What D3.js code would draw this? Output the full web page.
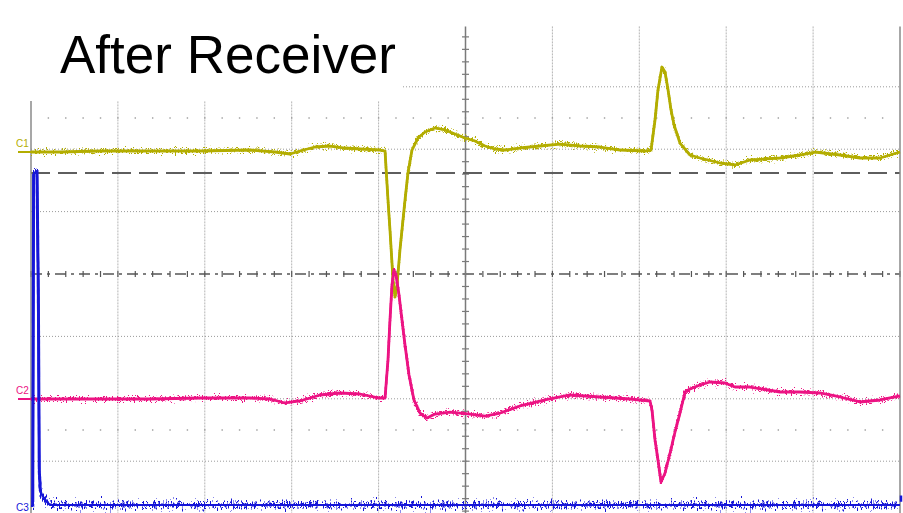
<!DOCTYPE html>
<html>
<head>
<meta charset="utf-8">
<script src="https://cdn.jsdelivr.net/npm/d3@7"></script>
<style>
  html, body { margin: 0; padding: 0; background: #fff; }
  svg { display: block; }
</style>
</head>
<body>
<svg id="scope" width="903" height="513"></svg>
<script>
// Screen units: time 0..100 (10 per division), level -40..40 (10 per division)
const title = "After Receiver";
const channelNames = ["C1", "C2", "C3"];
const channelColors = ["#b3ad00", "#ec1283", "#1515d8"];

const c1Time = [0,3.34,7.94,13.69,19.45,25.2,28.08,29.8,30.95,32.68,34.41,36.13,37.86,40.16,40.74,41.08,41.31,41.66,41.89,42.12,42.46,42.69,43.04,43.38,43.84,44.53,45.34,46.49,47.64,48.79,49.94,51.09,52.24,53.39,54.55,56.27,58.57,60.87,63.18,65.48,67.78,70.66,71.35,71.81,72.15,72.61,72.96,73.31,73.65,74.0,74.68,75.83,76.98,79.29,81.01,82.74,86.19,88.49,90.22,93.1,95.4,97.7,100];
const c1Level = [19.55,19.55,19.71,19.71,19.71,19.87,19.55,19.23,19.71,20.35,20.51,20.19,20.03,19.87,19.71,11.86,7.05,-0.96,-3.69,-1.76,3.85,7.05,11.86,16.19,19.87,21.79,22.76,23.40,23.08,22.44,21.79,21.31,20.51,20.03,19.87,20.19,20.51,20.83,20.51,20.35,19.87,19.71,19.87,24.68,29.49,33.17,32.37,29.49,26.28,23.88,20.99,19.07,18.59,17.79,17.47,18.27,18.59,19.07,19.55,19.07,18.59,18.59,19.55];

const c2Time = [0,7.94,13.69,19.45,25.2,27.50,29.23,30.95,33.26,35.56,37.86,39.93,40.74,41.08,41.31,41.54,41.77,42.0,42.35,42.69,43.04,43.50,44.07,44.76,45.57,46.49,48.22,50.52,52.24,54.0,56.27,59.15,62.03,65.48,68.93,71.23,71.46,71.81,72.15,72.50,72.96,73.54,74.11,74.68,75.26,75.83,76.98,78.14,79.86,81.01,82.74,86.19,88.49,90.79,93.1,95.4,97.7,100];
const c2Level = [-20.03,-20.03,-20.03,-19.87,-19.87,-20.03,-20.67,-20.35,-19.39,-19.07,-19.23,-19.87,-19.87,-13.78,-7.37,-1.76,0.64,-0.16,-3.37,-7.37,-11.38,-16.19,-20.19,-22.28,-23.08,-22.44,-22.12,-22.44,-22.76,-22.28,-21.15,-20.19,-19.39,-19.71,-20.03,-20.35,-21.79,-26.60,-29.81,-33.33,-31.89,-28.69,-25.32,-22.28,-18.91,-18.43,-17.79,-17.31,-17.47,-18.11,-18.11,-18.91,-18.91,-19.07,-19.71,-20.51,-20.19,-19.55];

const c3Time = [0,0.2,0.3,0.58,0.69,0.85,0.95,1.06,1.27,1.61,2.19,100];
const c3Level = [-37.18,-37.18,15.87,16.51,16.35,-4.17,-31.41,-34.62,-35.42,-36.22,-37.02,-37.02];

const majorX = d3.range(0, 101, 10);     // vertical graticule
const majorY = d3.range(-30, 31, 10);    // horizontal graticule
const minorX = d3.range(0, 100.01, 2);   // 5 minor ticks per division
const minorY = d3.range(-40, 40.01, 2);

const svg = d3.select("#scope");
const x = d3.scaleLinear().domain([0, 100]).range([31, 900]);
const y = d3.scaleLinear().domain([-40, 40]).range([523.6, 24.4]);

// vertical-only jitter so traces read as a noisy acquisition band
const defs = svg.append("defs");
function jitter(id, freq, scale, seed) {
  const f = defs.append("filter").attr("id", id)
    .attr("filterUnits", "userSpaceOnUse").attr("x", 0).attr("y", 0).attr("width", 903).attr("height", 513);
  f.append("feTurbulence").attr("type", "fractalNoise").attr("baseFrequency", freq)
    .attr("numOctaves", 2).attr("seed", seed).attr("result", "n");
  f.append("feColorMatrix").attr("in", "n").attr("type", "matrix")
    .attr("values", "0 0 0 0 0.5  0 1 0 0 0  0 0 0 0 0  0 0 0 0 1").attr("result", "m");
  f.append("feDisplacementMap").attr("in", "SourceGraphic").attr("in2", "m")
    .attr("scale", scale).attr("xChannelSelector", "R").attr("yChannelSelector", "G");
}
jitter("noise", "0.9 0.6", 14, 4);
jitter("noise3", "0.8 0.2", 20, 9);

const grid = svg.append("g");
const yTop = y(40), yBot = y(-40);

// vertical division lines
grid.selectAll("line.vx").data(majorX.filter(d => d !== 50 && d !== 0 && d !== 100)).join("line")
  .attr("x1", d => x(d)).attr("x2", d => x(d)).attr("y1", yTop + 2).attr("y2", yBot)
  .attr("stroke", "#b4b4b4").attr("stroke-width", 1).attr("stroke-dasharray", "2,1");

// horizontal division lines
grid.selectAll("line.hy").data(majorY.filter(d => d !== 0)).join("line")
  .attr("x1", x(0)).attr("x2", x(100)).attr("y1", d => y(d)).attr("y2", d => y(d))
  .attr("stroke", "#9a9a9a").attr("stroke-width", 1).attr("stroke-dasharray", "1,2");

// sparse minor dot rows
[25, -25].forEach(lv => {
  grid.selectAll(null).data(minorX.slice(1, -1)).join("rect")
    .attr("x", d => x(d) - 0.7).attr("y", y(lv) - 0.7).attr("width", 1.4).attr("height", 1.4)
    .attr("fill", "#999");
});

// center horizontal axis (dash-dot) with minor ticks
grid.append("line").attr("x1", x(0)).attr("x2", x(100)).attr("y1", y(0)).attr("y2", y(0))
  .attr("stroke", "#555").attr("stroke-width", 1.6).attr("stroke-dasharray", "11,5,3,5");
grid.selectAll(null).data(minorX).join("line")
  .attr("x1", d => x(d)).attr("x2", d => x(d)).attr("y1", y(0) - 3).attr("y2", y(0) + 3)
  .attr("stroke", "#555").attr("stroke-width", 1.2);

// center vertical axis with minor ticks
grid.append("line").attr("x1", x(50)).attr("x2", x(50)).attr("y1", yTop + 2).attr("y2", yBot)
  .attr("stroke", "#7a7a7a").attr("stroke-width", 1.5);
grid.selectAll(null).data(minorY.filter(d => y(d) > yTop + 4)).join("line")
  .attr("x1", x(50) - 3.5).attr("x2", x(50) + 3.5).attr("y1", d => y(d)).attr("y2", d => y(d))
  .attr("stroke", "#7a7a7a").attr("stroke-width", 1.2);

// trigger level marker (dashed)
grid.append("line").attr("x1", x(0)).attr("x2", x(100)).attr("y1", y(16.2)).attr("y2", y(16.2))
  .attr("stroke", "#5e5e5e").attr("stroke-width", 2).attr("stroke-dasharray", "19,8");

// title panel
svg.append("rect").attr("x", 0).attr("y", 0).attr("width", 402).attr("height", 101).attr("fill", "#fff");
svg.append("text").attr("x", 60).attr("y", 73)
  .attr("font-family", "Liberation Sans, Arial, sans-serif").attr("font-size", 53)
  .attr("fill", "#000").text(title);

// frame edges
svg.append("line").attr("x1", x(0)).attr("x2", x(0)).attr("y1", 101).attr("y2", yBot)
  .attr("stroke", "#8a8a8a").attr("stroke-width", 1.5);
svg.append("line").attr("x1", x(100)).attr("x2", x(100)).attr("y1", yTop + 2).attr("y2", yBot)
  .attr("stroke", "#8a8a8a").attr("stroke-width", 1.5);

// traces: a solid core plus a jittered copy for the noise fuzz
const line = d3.line().x(d => x(d[0])).y(d => y(d[1]));
const traces = [
  { t: c1Time, v: c1Level, filter: "url(#noise)", core: 2.8, fuzz: 2.2 },
  { t: c2Time, v: c2Level, filter: "url(#noise)", core: 2.8, fuzz: 2.2 },
  { t: c3Time, v: c3Level, filter: "url(#noise3)", core: 2.2, fuzz: 3 }
];
traces.forEach((tr, i) => {
  const pts = tr.t.map((t, k) => [t, tr.v[k]]);
  const g = svg.append("g");
  g.append("path").datum(pts).attr("d", line).attr("fill", "none")
    .attr("stroke", channelColors[i]).attr("stroke-width", tr.core)
    .attr("stroke-linejoin", "round");
  g.append("path").datum(pts).attr("d", line).attr("fill", "none")
    .attr("stroke", channelColors[i]).attr("stroke-width", tr.fuzz)
    .attr("stroke-linejoin", "round").attr("filter", tr.filter);
});

// channel markers
channelNames.forEach((name, i) => {
  const lv = traces[i].v[0];
  const g = svg.append("g");
  g.append("text").attr("x", 16).attr("y", y(lv) - 5 + (i === 2 ? 10 : 0))
    .attr("font-family", "Liberation Sans, Arial, sans-serif").attr("font-size", 10)
    .attr("fill", channelColors[i]).text(name);
  if (i < 2) {
    g.append("line").attr("x1", 18).attr("x2", x(0)).attr("y1", y(lv)).attr("y2", y(lv))
      .attr("stroke", channelColors[i]).attr("stroke-width", 2);
  }
});
svg.append("line").attr("x1", x(100) + 1).attr("x2", x(100) + 1)
  .attr("y1", y(-35.5)).attr("y2", y(-36.5)).attr("stroke", channelColors[2]).attr("stroke-width", 2.5);
</script>
</body>
</html>
